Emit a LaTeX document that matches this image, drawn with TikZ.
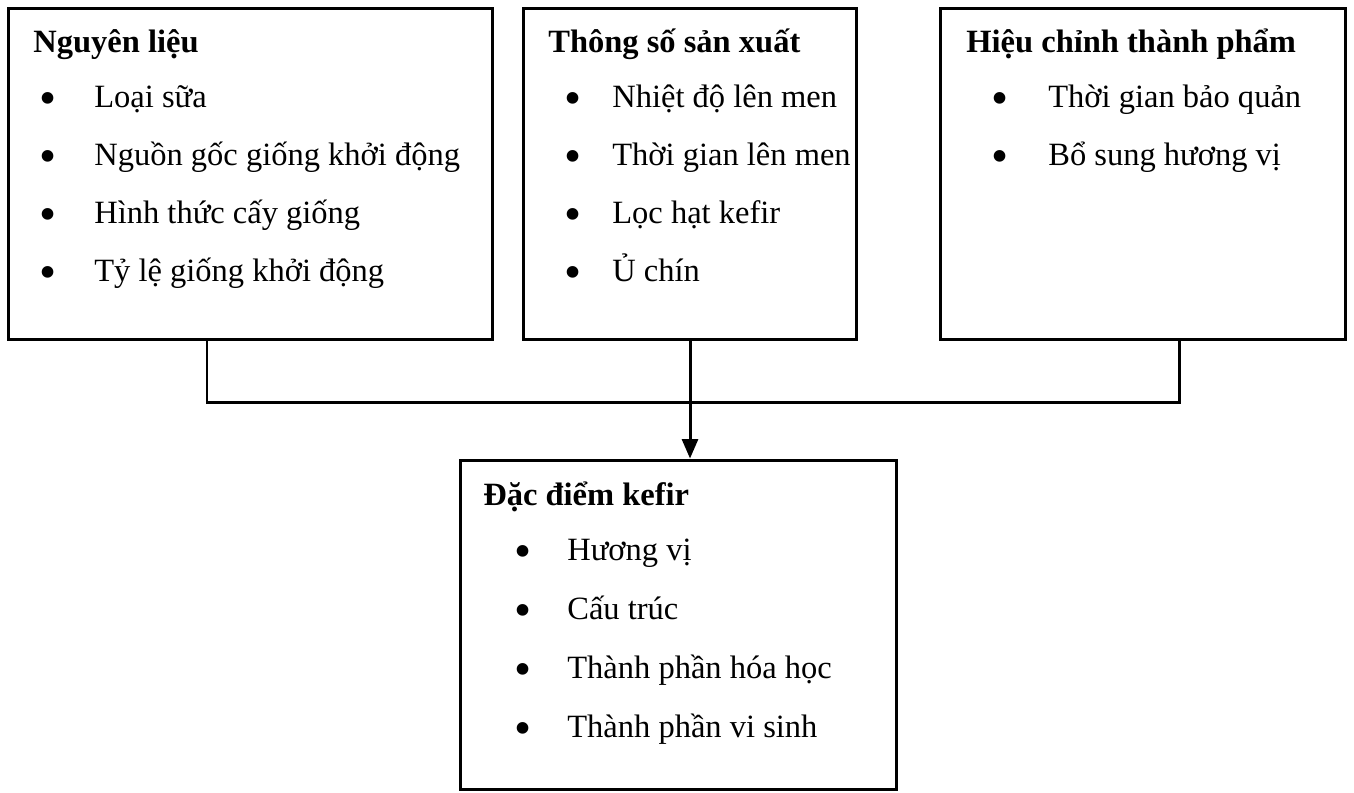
\documentclass[tikz,border=0pt]{standalone}
\usepackage{fontspec}
\setmainfont{Liberation Serif}
\usetikzlibrary{arrows.meta,positioning}
\tikzset{every node/.style={font=\fontsize{18.5}{22}\selectfont}}

\begin{document}
\begin{tikzpicture}[
  x=0.02cm, y=-0.02cm,
  box/.style={draw, line width=1.7pt, inner sep=0pt},
  head/.style={anchor=base west, inner sep=0pt, font=\fontsize{18.5}{22}\selectfont\bfseries},
  entry/.style={anchor=base west, inner sep=0pt},
  dot/.style={inner sep=0pt, scale=1.5},
  link/.style={line width=1.7pt},
% arrow tip as in the reference: a filled triangle
  arr/.style={link, -{Triangle[length=11pt,width=9pt]}}
]
\useasboundingbox (0,0) rectangle (1354,792);

% the four boxes
\path (250.5,174) node[box, minimum width=9.7cm, minimum height=6.64cm] (nguyen) {};
\path (690,174) node[box, minimum width=6.68cm, minimum height=6.64cm] (thongso) {};
\path (1143,174) node[box, minimum width=8.12cm, minimum height=6.64cm] (hieuchinh) {};
\path (678.5,625) node[box, minimum width=8.74cm, minimum height=6.6cm] (dacdiem) {};

% headings
\path (33,52) node[head] (hNguyen) {Nguyên liệu};
\path (548,52) node[head] (hThongso) {Thông số sản xuất};
\path (966,52) node[head] (hHieu) {Hiệu chỉnh thành phẩm};
\path (483,505) node[head] (hDac) {Đặc điểm kefir};

% bullet lists
\foreach \t [count=\i] in {Loại sữa, Nguồn gốc giống khởi động, Hình thức cấy giống, Tỷ lệ giống khởi động}
  \path (48,46+58*\i) node[dot] (bN\i) {\textbullet}
        (94,49+58*\i) node[entry] (tN\i) {\t};
\foreach \t [count=\i] in {Nhiệt độ lên men, Thời gian lên men, Lọc hạt kefir, Ủ chín}
  \path (573,46+58*\i) node[dot] (bT\i) {\textbullet}
        (612,49+58*\i) node[entry] (tT\i) {\t};
\foreach \t [count=\i] in {Thời gian bảo quản, Bổ sung hương vị}
  \path (1000,46+58*\i) node[dot] (bH\i) {\textbullet}
        (1048,49+58*\i) node[entry] (tH\i) {\t};
\foreach \t [count=\i] in {Hương vị, Cấu trúc, Thành phần hóa học, Thành phần vi sinh}
  \path (523,498+59*\i) node[dot] (bD\i) {\textbullet}
        (567,501+59*\i) node[entry] (tD\i) {\t};

% connectors
\coordinate (jL) at (207,402);
\coordinate (jR) at (1179,402);
\draw[link] (nguyen.south -| jL) -- (jL) -- (jR) -- (hieuchinh.south -| jR);
\draw[arr] (thongso.south) -- (dacdiem.north -| thongso.south);
\end{tikzpicture}
\end{document}
